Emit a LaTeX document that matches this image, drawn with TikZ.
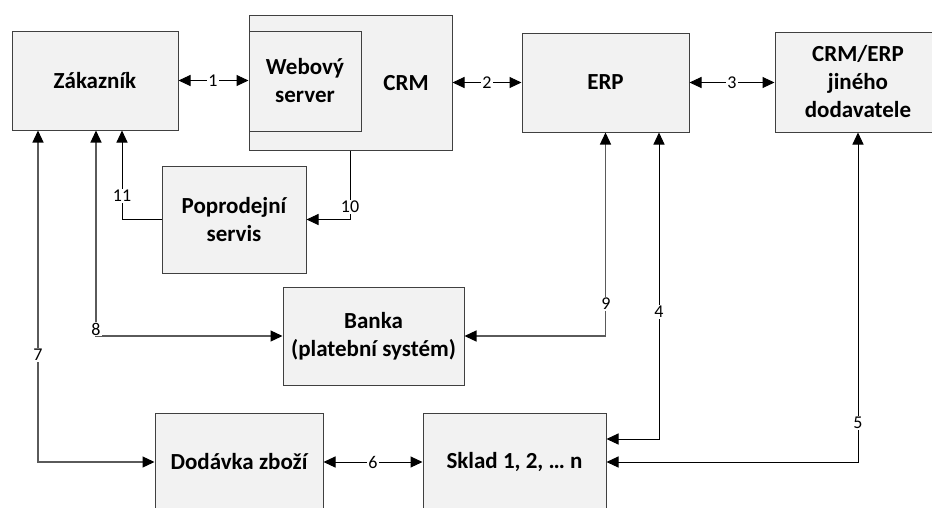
\documentclass[tikz,border=0pt]{standalone}
\usepackage{fontspec}
\setmainfont{Carlito}
\usetikzlibrary{arrows.meta}
\definecolor{boxfill}{HTML}{F2F2F2}
\definecolor{boxborder}{HTML}{404040}
\definecolor{linegray}{HTML}{5A5A5A}
\begin{document}
\begin{tikzpicture}[x=1pt,y=-1pt,
  box/.style={draw=boxborder, fill=boxfill, line width=1pt, inner sep=0pt, align=center,
    font=\fontsize{23}{28}\selectfont\bfseries},
  boxtext/.style={inner sep=0pt, align=center, font=\fontsize{23}{28}\selectfont\bfseries},
  lbl/.style={fill=white, inner sep=1.2pt, font=\fontsize{18}{20}\selectfont},
  conn/.style={line width=1pt, draw=black},
  gconn/.style={line width=1.3pt, draw=linegray},
  >={Triangle[length=12pt,width=11pt,color=black]}]
\useasboundingbox (0,0) rectangle (932,507);

% boxes
\node[box, minimum width=166pt, minimum height=99pt] (zak) at (95,80.5) {Zákazník};
\node[box, minimum width=203pt, minimum height=135pt] (crm) at (350.5,82.5) {};
\node[box, minimum width=112pt, minimum height=100pt] (web) at (305,81) {Webový\\server};
\node[boxtext] (crmt) at (406,83) {CRM};
\node[box, minimum width=167pt, minimum height=99pt] (erp) at (605.5,82.5) {ERP};
\node[box, minimum width=166pt, minimum height=100pt] (oth) at (858,82) {CRM/ERP\\jiného\\dodavatele};
\node[box, minimum width=144pt, minimum height=107pt] (pop) at (234,219.5) {Poprodejní\\servis};
\node[box, minimum width=181pt, minimum height=98pt] (bank) at (373.5,336) {Banka\\(platební systém)};
\node[box, minimum width=168pt, minimum height=98pt] (dod) at (239,462) {Dodávka zboží};
\node[box, minimum width=183pt, minimum height=98pt] (skl) at (514.5,462) {Sklad 1, 2, … n};

% helper coordinates
\coordinate (x4) at (659,439);
\coordinate (x7) at (38,0);
\coordinate (x8) at (96,0);
\coordinate (x11) at (122,0);

% connectors
\draw[conn,<->] (zak.east) -- (zak.east -| web.west);
\draw[conn,<->] (crm.east) -- (crm.east -| erp.west);
\draw[conn,<->] (erp.east) -- (erp.east -| oth.west);
\draw[conn,<->] (erp.south -| x4) |- (skl.east |- x4);
\draw[conn,<->] (oth.south) |- (skl.east);
\draw[conn,<->] (dod.east) -- (skl.west);
\draw[gconn,<->] (zak.south -| x7) |- (dod.west);
\draw[gconn,<->] (zak.south -| x8) |- (bank.west);
\draw[gconn,<->] (erp.south) |- (bank.east);
\draw[conn,->] (crm.south) |- (pop.east);
\draw[conn,->] (pop.west) -| (zak.south -| x11);

% labels
\node[lbl] (l1) at (213,81) {1};
\node[lbl] (l2) at (487,83) {2};
\node[lbl] (l3) at (732,83) {3};
\node[lbl] (l4) at (659,312) {4};
\node[lbl] (l5) at (858,423) {5};
\node[lbl] (l6) at (373,462) {6};
\node[lbl] (l7) at (38,355) {7};
\node[lbl] (l8) at (96,329) {8};
\node[lbl] (l9) at (606,304) {9};
\node[lbl] (l10) at (350,207) {10};
\node[lbl] (l11) at (122,196) {11};
\end{tikzpicture}
\end{document}
